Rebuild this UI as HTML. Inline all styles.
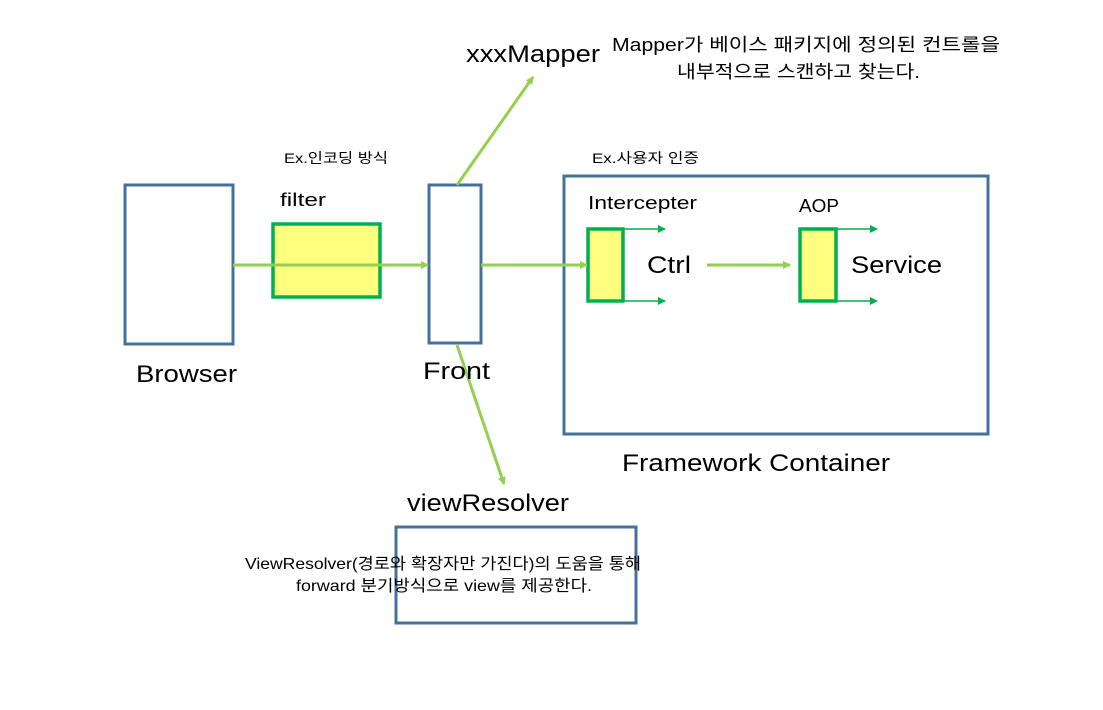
<!DOCTYPE html>
<html><head><meta charset="utf-8"><style>
body{margin:0;background:#fff;}
svg text{font-family:"Liberation Sans","Noto Sans CJK KR",sans-serif;fill:#000;}
</style></head><body>
<svg width="1103" height="705" viewBox="0 0 1103 705" xmlns="http://www.w3.org/2000/svg">
<defs>
<marker id="a" markerWidth="8" markerHeight="8" refX="7" refY="4" orient="auto" markerUnits="userSpaceOnUse"><path d="M0,0 L8,4 L0,8 z" fill="#92d050"/></marker>
<marker id="b" markerWidth="8" markerHeight="8" refX="7" refY="4" orient="auto" markerUnits="userSpaceOnUse"><path d="M0,0 L8,4 L0,8 z" fill="#00b050"/></marker>
</defs>
<g fill="none" stroke="#44709c" stroke-width="3">
<rect x="125" y="185" width="108" height="159"/>
<rect x="429" y="185" width="52" height="158"/>
<rect x="564" y="176" width="424" height="258"/>
<rect x="396" y="527" width="240" height="96"/>
</g>
<g fill="#ffff80" stroke="#00b050" stroke-width="3.5">
<rect x="273" y="224" width="107" height="73"/>
<rect x="588" y="229" width="35" height="72"/>
<rect x="800" y="229" width="36" height="72"/>
</g>
<g stroke="#92d050" stroke-width="3" marker-end="url(#a)">
<line x1="233" y1="265" x2="428" y2="265"/>
<line x1="481" y1="265" x2="587" y2="265"/>
<line x1="707" y1="265" x2="790" y2="265"/>
<line x1="457" y1="185" x2="533" y2="77"/>
<line x1="457" y1="345" x2="504" y2="484"/>
</g>
<g stroke="#00b050" stroke-width="1.5" marker-end="url(#b)">
<line x1="623" y1="229" x2="665" y2="229"/>
<line x1="623" y1="301" x2="665" y2="301"/>
<line x1="836" y1="229" x2="877" y2="229"/>
<line x1="836" y1="301" x2="877" y2="301"/>
</g>
<g lengthAdjust="spacingAndGlyphs">
<text x="466" y="62" font-size="24" textLength="134" lengthAdjust="spacingAndGlyphs">xxxMapper</text>
<text x="612" y="51" font-size="18" textLength="388" lengthAdjust="spacingAndGlyphs">Mapper가 베이스 패키지에 정의된 컨트롤을</text>
<text x="677" y="78" font-size="18" textLength="243" lengthAdjust="spacingAndGlyphs">내부적으로 스캔하고 찾는다.</text>
<text x="284" y="163" font-size="14" textLength="104" lengthAdjust="spacingAndGlyphs">Ex.인코딩 방식</text>
<text x="280" y="206" font-size="18" textLength="46" lengthAdjust="spacingAndGlyphs">filter</text>
<text x="592" y="163" font-size="14" textLength="107" lengthAdjust="spacingAndGlyphs">Ex.사용자 인증</text>
<text x="588" y="209" font-size="18" textLength="109" lengthAdjust="spacingAndGlyphs">Intercepter</text>
<text x="799" y="212" font-size="18" textLength="40" lengthAdjust="spacingAndGlyphs">AOP</text>
<text x="647" y="273" font-size="24" textLength="44" lengthAdjust="spacingAndGlyphs">Ctrl</text>
<text x="851" y="273" font-size="24" textLength="91" lengthAdjust="spacingAndGlyphs">Service</text>
<text x="136" y="382" font-size="24" textLength="101" lengthAdjust="spacingAndGlyphs">Browser</text>
<text x="423" y="379" font-size="24" textLength="67" lengthAdjust="spacingAndGlyphs">Front</text>
<text x="622" y="471" font-size="24" textLength="268" lengthAdjust="spacingAndGlyphs">Framework Container</text>
<text x="407" y="511" font-size="24" textLength="162" lengthAdjust="spacingAndGlyphs">viewResolver</text>
<text x="245" y="569" font-size="16" textLength="396" lengthAdjust="spacingAndGlyphs">ViewResolver(경로와 확장자만 가진다)의 도움을 통해</text>
<text x="296" y="591" font-size="16" textLength="296" lengthAdjust="spacingAndGlyphs">forward 분기방식으로 view를 제공한다.</text>
</g>
</svg>
</body></html>
